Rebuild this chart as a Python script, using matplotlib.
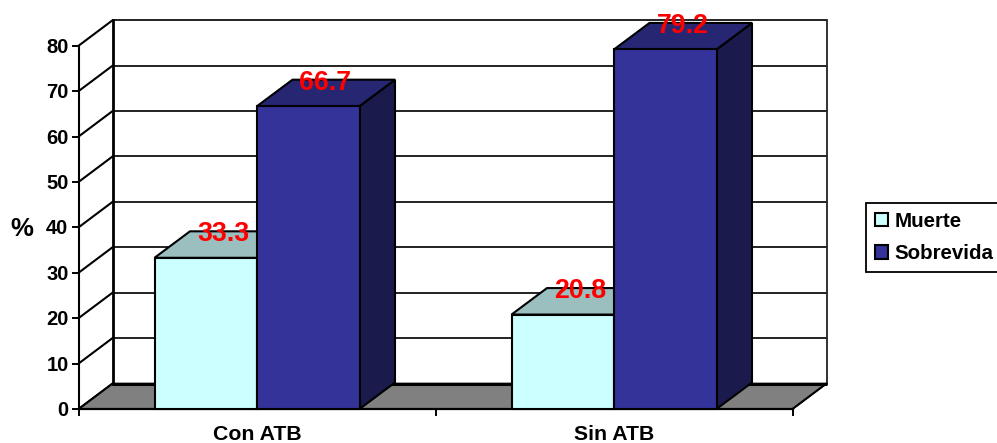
import matplotlib
matplotlib.use('Agg')
from matplotlib import pyplot as plt
from matplotlib.patches import Polygon, Patch

plt.rcParams['font.family'] = ['Liberation Sans', 'DejaVu Sans']
plt.rcParams['font.weight'] = 'bold'

categorias = ['Con ATB', 'Sin ATB']
series = ['Muerte', 'Sobrevida']
muerte = [33.3, 20.8]
sobrevida = [66.7, 79.2]
ticks_y = [0, 10, 20, 30, 40, 50, 60, 70, 80]

# colores: frente, techo, lateral
col_muerte = ('#CCFFFF', '#9BBFBF', '#7F9F9F')
col_sobrevida = ('#333399', '#262673', '#1A1A4D')

# escala: 357 px por categoria, 4.54 px por unidad
px_x = 357.0
px_y = 4.54
x0 = 78.5
y0 = 409.0
dx = 34 / px_x      # profundidad del piso
dy = 25.5 / px_y
dx_b = 35.5 / px_x  # profundidad de las barras
dy_b = 26.5 / px_y
ancho = 102.5 / px_x
ymax = ticks_y[-1]
nx = len(categorias)

fig = plt.figure(figsize=(9.97, 4.43), dpi=100)
ax = fig.add_axes([0, 0, 1, 1])
ax.set_xlim(-x0 / px_x, (997 - x0) / px_x)
ax.set_ylim((y0 - 443) / px_y, y0 / px_y)
ax.axis('off')

# paredes y grilla
ax.add_patch(Polygon([(0, 0), (dx, dy), (nx + dx, dy), (nx, 0)], closed=True,
                     fc='#808080', ec='black', lw=1.2, zorder=1))
for v in ticks_y[1:]:
    ax.plot([dx, nx + dx], [v + dy, v + dy], color='#222222', lw=1.4, zorder=1,
            solid_capstyle='butt')
for v in ticks_y:
    ax.plot([0, dx], [v, v + dy], color='black', lw=1.5, zorder=1)
    ax.plot([-6 / px_x, 0], [v, v], color='black', lw=1.4, zorder=1)
    ax.text(-10 / px_x, v - 1.5 / px_y, str(v), ha='right', va='center',
            fontsize=14.5, zorder=5)
ax.plot([dx, dx], [dy, ymax + dy], color='black', lw=2, zorder=2)
ax.plot([nx + dx, nx + dx], [dy, ymax + dy], color='#222222', lw=1.3, zorder=1)
ax.plot([dx, nx + dx], [dy, dy], color='black', lw=2.2, zorder=2,
        solid_capstyle='butt')
ax.plot([0, 0], [0, ymax], color='black', lw=1.5, zorder=2)
ax.plot([0, nx], [0, 0], color='black', lw=1.6, zorder=2)
ax.plot([nx, nx + dx], [0, dy], color='black', lw=1.4, zorder=2)

# marcas de categoria
for i in range(nx + 1):
    ax.plot([i, i], [0, -6 / px_y], color='black', lw=1.4, zorder=2)
for i, c in enumerate(categorias):
    ax.text(i + 0.5, -26 / px_y, c, ha='center', va='center', fontsize=15.3)


def barra(x, v, cols, z):
    ec = dict(ec='black', lw=1.5, joinstyle='miter', zorder=z)
    ax.add_patch(Polygon([(x + ancho, 0), (x + ancho + dx_b, dy_b),
                          (x + ancho + dx_b, v + dy_b), (x + ancho, v)],
                         closed=True, fc=cols[2], **ec))
    ax.add_patch(Polygon([(x, v), (x + dx_b, v + dy_b),
                          (x + ancho + dx_b, v + dy_b), (x + ancho, v)],
                         closed=True, fc=cols[1], **ec))
    ax.add_patch(Polygon([(x, 0), (x, v), (x + ancho, v), (x + ancho, 0)],
                         closed=True, fc=cols[0], **ec))
    ax.text(x + ancho / 2 + dx_b / 2 - 0.5 / px_x, v + dy_b - 3 / px_y, '%.1f' % v,
            color='#FF0000', ha='center', va='center', fontsize=19.3, zorder=10)


for i in range(nx):
    barra(i + 0.5 - ancho, muerte[i], col_muerte, 3)
    barra(i + 0.5, sobrevida[i], col_sobrevida, 4)

ax.text(-56.5 / px_x, 180 / px_y, '%', ha='center', va='center', fontsize=18.5)

handles = [Patch(fc=col_muerte[0], ec='black', lw=1.5),
           Patch(fc=col_sobrevida[0], ec='black', lw=1.5)]
leg = ax.legend(handles, series, loc='upper left',
                bbox_to_anchor=(866 / 997, 1 - 203 / 443), fontsize=14.8,
                fancybox=False, framealpha=1, edgecolor='black',
                handlelength=0.65, handleheight=0.65, handletextpad=0.3,
                labelspacing=0.66, borderpad=0.42, borderaxespad=0)
leg.get_frame().set_linewidth(1.3)

fig.savefig('out.png', dpi=100)
